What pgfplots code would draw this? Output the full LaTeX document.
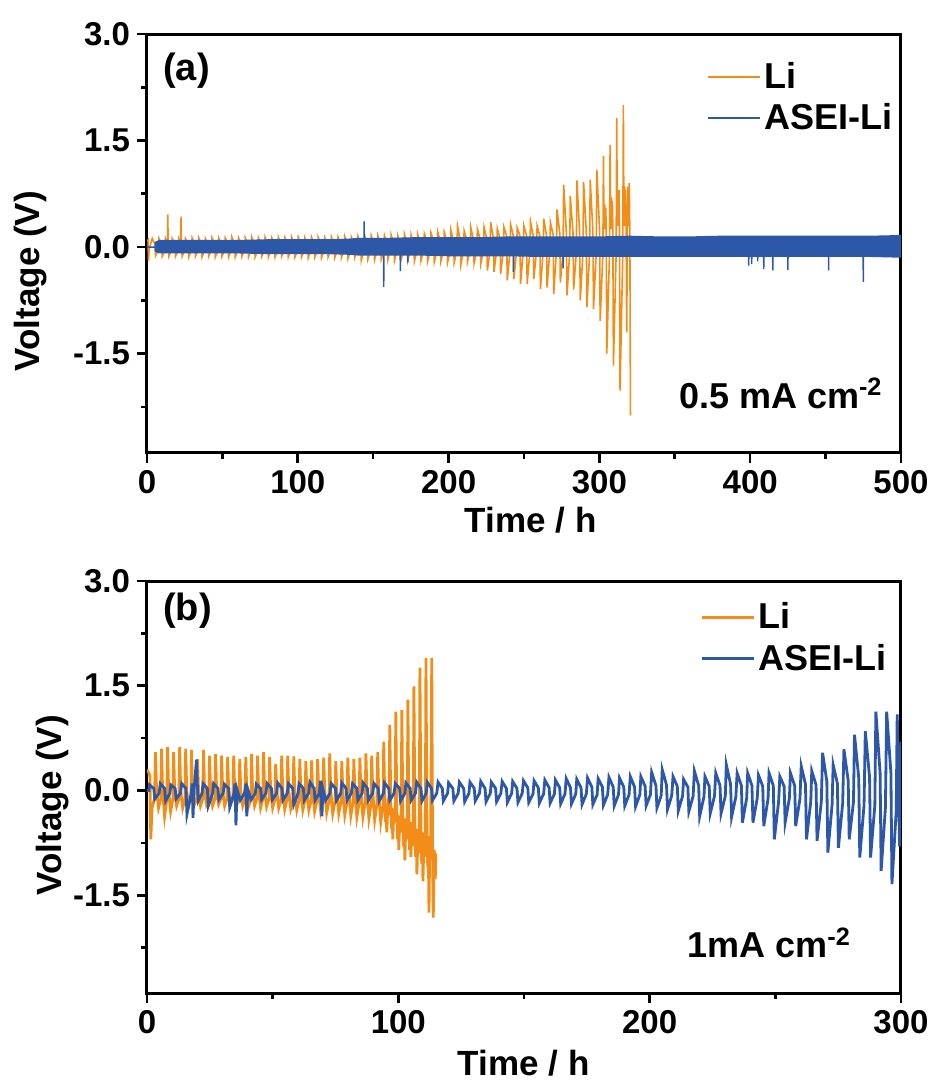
\documentclass[border=0pt]{standalone}
\usepackage{fontspec}
\setmainfont{Liberation Sans}
\usepackage{pgfplots}
\pgfplotsset{compat=1.18}
\definecolor{liorange}{RGB}{243,141,26}
\definecolor{aseiblue}{RGB}{45,88,168}
\pgfplotsset{
  myaxis/.style={
    scale only axis,
    width=377pt,
    axis line style={line width=1.5pt},
    every tick/.style={line width=1.3pt, black},
    tick align=outside,
    xtick pos=bottom, ytick pos=left,
    major tick length=5pt, minor tick length=3pt,
    ymin=-2.9, ymax=3.0,
    ytick={-1.5,0,1.5,3}, yticklabels={-1.5,0.0,1.5,3.0},
    minor ytick={-2.25,-0.75,0.75,2.25},
    tick label style={font=\fontsize{16.5}{19}\selectfont\bfseries},
    label style={font=\fontsize{17.5}{21}\selectfont\bfseries},
    legend style={draw=none, fill=none, font=\fontsize{18}{21}\selectfont\bfseries,
      nodes={inner sep=1.5pt}, row sep=3pt},
    legend cell align=left,
    legend image code/.code={\draw[#1] (0pt,0pt) -- (26pt,0pt);},
  }
}
\begin{document}
\begin{tikzpicture}
\path[use as bounding box] (-73.5pt,17pt) rectangle (394.5pt,-527.5pt);
% ---------------- panel (a) ----------------
\begin{axis}[myaxis, at={(0,0)}, anchor=north west, height=209.5pt,
  xmin=0, xmax=500, xtick={0,100,200,300,400,500}, xticklabels={0,100,200,300,400,500},
  minor xtick={50,150,250,350,450},
  xlabel={Time / h}, ylabel={Voltage (V)},
  xlabel style={at={(axis description cs:0.509,-0.189)}, anchor=base},
  ylabel style={at={(axis description cs:-0.155,0.41)}, anchor=center},
  legend style={at={(axis description cs:0.735,0.95)}, anchor=north west},
  legend image code/.code={\draw[#1, line width=0.8pt] (0pt,0pt) -- (26pt,0pt);},
]
\addplot[liorange, line width=0.8pt] coordinates {
(0,0.08) (0.7,0.10) (1.0,-0.19) (1.4,-0.03) (2.2,0.03)
(3.5,0.12) (5.3,0.04) (5.7,-0.12) (7.5,-0.04)
(7.9,0.12) (9.7,0.04) (10.1,-0.13) (11.9,-0.04)
(12.3,0.12) (13.6,0.05) (13.8,0.46) (14.0,0.05) (14.5,-0.13) (16.3,-0.04)
(16.7,0.12) (18.5,0.04) (18.9,-0.13) (20.7,-0.04)
(21.1,0.12) (22.4,0.05) (22.6,0.43) (22.8,0.05) (23.3,-0.13) (25.1,-0.04)
(25.5,0.12) (27.3,0.04) (27.7,-0.14) (29.5,-0.04)
(29.9,0.13) (31.7,0.04) (32.1,-0.13) (33.9,-0.04)
(34.3,0.13) (36.1,0.04) (36.5,-0.14) (38.3,-0.04)
(38.7,0.12) (40.5,0.04) (40.9,-0.13) (42.7,-0.04)
(43.1,0.13) (44.9,0.04) (45.3,-0.14) (47.1,-0.04)
(47.5,0.13) (49.3,0.04) (49.7,-0.13) (51.5,-0.04)
(51.9,0.13) (53.7,0.04) (54.1,-0.14) (55.9,-0.04)
(56.3,0.14) (58.1,0.04) (58.5,-0.14) (60.3,-0.04)
(60.7,0.13) (62.5,0.04) (62.9,-0.13) (64.7,-0.04)
(65.1,0.13) (66.9,0.04) (67.3,-0.14) (69.1,-0.04)
(69.5,0.14) (71.3,0.04) (71.7,-0.14) (73.5,-0.04)
(73.9,0.13) (75.7,0.04) (76.1,-0.13) (77.9,-0.04)
(78.3,0.14) (80.1,0.04) (80.5,-0.14) (82.3,-0.04)
(82.7,0.13) (84.5,0.04) (84.9,-0.14) (86.7,-0.04)
(87.1,0.14) (88.9,0.04) (89.3,-0.13) (91.1,-0.04)
(91.5,0.13) (93.3,0.04) (93.7,-0.14) (95.5,-0.04)
(95.9,0.14) (97.7,0.04) (98.1,-0.14) (99.9,-0.04)
(100.3,0.14) (102.1,0.04) (102.5,-0.14) (104.3,-0.04)
(104.7,0.13) (106.5,0.04) (106.9,-0.15) (108.7,-0.04)
(109.1,0.14) (110.9,0.04) (111.3,-0.14) (113.1,-0.04)
(113.5,0.14) (115.3,0.04) (115.7,-0.15) (117.5,-0.04)
(117.9,0.13) (119.7,0.04) (120.1,-0.14) (121.9,-0.04)
(122.3,0.14) (124.1,0.04) (124.5,-0.15) (126.3,-0.04)
(126.7,0.14) (128.5,0.04) (128.9,-0.15) (130.7,-0.04)
(131.1,0.15) (132.9,0.04) (133.3,-0.16) (135.1,-0.04)
(135.5,0.14) (137.3,0.04) (137.7,-0.15) (139.5,-0.04)
(139.9,0.15) (141.7,0.04) (142.1,-0.19) (143.9,-0.04)
(144.3,0.16) (146.1,0.04) (146.5,-0.17) (148.3,-0.04)
(148.7,0.16) (150.5,0.04) (150.9,-0.18) (152.7,-0.04)
(153.1,0.16) (154.9,0.04) (155.3,-0.17) (157.1,-0.04)
(157.5,0.16) (159.3,0.04) (159.7,-0.18) (161.5,-0.04)
(161.9,0.17) (163.7,0.04) (164.1,-0.19) (165.9,-0.04)
(166.3,0.16) (168.1,0.04) (168.5,-0.18) (170.3,-0.04)
(170.7,0.18) (172.5,0.04) (172.9,-0.19) (174.7,-0.04)
(175.1,0.17) (176.9,0.04) (177.3,-0.20) (179.1,-0.04)
(179.5,0.18) (181.3,0.04) (181.7,-0.19) (183.5,-0.04)
(183.9,0.19) (185.7,0.08) (186.1,-0.20) (187.9,-0.05)
(188.3,0.20) (190.1,0.08) (190.5,-0.21) (192.3,-0.05)
(192.7,0.22) (194.5,0.08) (194.9,-0.20) (196.7,-0.05)
(197.1,0.21) (198.9,0.08) (199.3,-0.22) (201.1,-0.05)
(201.5,0.24) (203.3,0.08) (203.7,-0.22) (205.5,-0.05)
(205.9,0.30) (207.7,0.10) (208.1,-0.25) (209.9,-0.05)
(210.3,0.23) (212.1,0.10) (212.5,-0.21) (214.3,-0.05)
(214.7,0.28) (216.5,0.10) (216.9,-0.23) (218.7,-0.05)
(219.1,0.25) (220.9,0.12) (221.3,-0.24) (223.1,-0.05)
(223.5,0.28) (225.3,0.12) (225.7,-0.33) (227.5,-0.05)
(227.9,0.35) (229.7,0.12) (230.1,-0.35) (231.9,-0.05)
(232.3,0.26) (234.1,0.12) (234.5,-0.38) (236.3,-0.05)
(236.7,0.28) (238.5,0.16) (238.9,-0.47) (240.7,-0.06)
(241.1,0.32) (242.9,0.16) (243.3,-0.45) (245.1,-0.06)
(245.5,0.27) (247.3,0.16) (247.7,-0.52) (249.5,-0.06)
(249.9,0.30) (251.7,0.16) (252.1,-0.52) (253.9,-0.06)
(254.3,0.36) (256.1,0.16) (256.5,-0.45) (258.3,-0.06)
(258.7,0.30) (260.5,0.16) (260.9,-0.59) (262.7,-0.06)
(263.1,0.40) (264.9,0.17) (265.3,-0.57) (267.1,-0.06)
(267.5,0.35) (269.3,0.18) (269.7,-0.66) (271.5,-0.06)
(271.9,0.53) (273.7,0.20) (274.1,-0.50) (275.9,-0.08)
(276.3,0.88) (278.1,0.20) (278.5,-0.68) (280.3,-0.08)
(280.7,0.72) (282.5,0.20) (282.9,-0.60) (284.7,-0.08)
(285.1,0.94) (286.9,0.20) (287.3,-0.75) (289.1,-0.08)
(289.5,0.92) (291.3,0.22) (291.7,-0.85) (293.5,-0.08)
(293.9,0.95) (295.7,0.22) (296.1,-0.87) (297.9,-0.08)
(298.3,1.09) (300.1,0.25) (300.5,-1.04) (302.3,-0.10)
(302.7,1.28) (303.0,0.45) (303.3,0.25) (303.6,0.60) (303.9,0.30) (304.2,0.55) (304.5,0.30) (304.9,-1.50) (306.7,-0.10)
(307.1,1.44) (307.4,0.50) (307.7,0.25) (308.0,0.70) (308.3,0.30) (308.6,0.65) (308.9,0.30) (309.3,-1.67) (311.1,-0.10)
(311.5,1.82) (311.8,0.55) (312.1,0.30) (312.4,0.75) (312.7,0.35) (313.0,0.80) (313.3,0.35) (313.7,-2.02) (315.5,-0.10)
(315.9,2.00) (316.2,0.60) (316.5,0.30) (316.8,0.85) (317.1,0.35) (317.4,0.80) (317.7,0.35) (318.1,-1.20) (318.6,0.30) (319.0,0.85) (319.4,0.30) (319.8,0.90) (320.2,0.20) (320.6,-2.37)
};
\addlegendentry{Li}
\addplot[fill=aseiblue, draw=none, forget plot] coordinates {
(5,0.07) (8,0.10) (20,0.10) (40,0.10) (60,0.10) (80,0.11) (100,0.11) (120,0.11) (135,0.12) (140,0.13)
(160,0.13) (180,0.14) (200,0.14) (220,0.14) (240,0.15) (260,0.15) (280,0.15) (300,0.15) (320,0.16)
(340,0.15) (360,0.15) (380,0.16) (400,0.16) (420,0.16) (440,0.16) (460,0.16) (480,0.16) (500,0.17)
(500,-0.15) (480,-0.14) (460,-0.14) (440,-0.14) (420,-0.14) (400,-0.14) (380,-0.14) (360,-0.14)
(340,-0.14) (320,-0.14) (300,-0.14) (280,-0.14) (260,-0.14) (240,-0.13) (220,-0.13) (200,-0.13)
(180,-0.12) (160,-0.12) (140,-0.12) (135,-0.11) (120,-0.10) (100,-0.10) (80,-0.10) (60,-0.09)
(40,-0.09) (20,-0.09) (8,-0.09) (5,-0.06)
};
\addplot[aseiblue, line width=0.7pt] coordinates {
(0,0) (143.8,0) (144.0,0.36) (144.2,0) (156.8,0) (157.0,-0.56) (157.2,0) (167.8,0) (168.0,-0.34) (168.2,0)
(172.8,0) (173.0,-0.22) (173.2,0) (242.8,0) (243.0,-0.35) (243.2,0) (275.8,0) (276.0,-0.30) (276.2,0)
(398.8,0) (399.0,-0.26) (399.2,0) (400.8,0) (401.0,-0.24) (401.2,0) (404.8,0) (405.0,-0.20) (405.2,0)
(408.8,0) (409.0,-0.31) (409.2,0) (414.8,0) (415.0,-0.33) (415.2,0) (424.8,0) (425.0,-0.32) (425.2,0)
(451.8,0) (452.0,-0.33) (452.2,0) (474.8,0) (475.0,-0.49) (475.2,0) (500,0)
};
\addlegendentry{ASEI-Li}
\node[anchor=north west, inner sep=0pt, font=\fontsize{19}{22}\selectfont\bfseries] at (rel axis cs:0.021,0.955) {(a)};
\node[anchor=base east, inner sep=0pt, font=\fontsize{18}{21}\selectfont\bfseries] at (rel axis cs:0.976,0.107) {0.5 mA cm\textsuperscript{-2}};
\end{axis}
% ---------------- panel (b) ----------------
\begin{axis}[myaxis, at={(0,-273.5pt)}, anchor=north west, height=206pt,
  xmin=0, xmax=300, xtick={0,100,200,300}, xticklabels={0,100,200,300},
  minor xtick={50,150,250},
  xlabel={Time / h}, ylabel={Voltage (V)},
  xlabel style={at={(axis description cs:0.4995,-0.199)}, anchor=base},
  ylabel style={at={(axis description cs:-0.125,0.456)}, anchor=center},
  legend style={at={(axis description cs:0.725,0.965)}, anchor=north west},
  legend image code/.code={\draw[#1, line width=1.5pt] (0pt,0pt) -- (26pt,0pt);},
]
\addplot[liorange, line width=1.4pt] coordinates {
(0,0.30) (0.8,0.25) (1.2,0.20) (1.5,-0.70) (2.0,-0.25) (3.0,-0.12)
(3.4,0.55) (3.8,0.00) (4.6,-0.25) (5.5,-0.12)
(5.8,0.60) (6.2,0.00) (7.0,-0.37) (7.9,-0.12)
(8.2,0.62) (8.6,0.00) (9.4,-0.30) (10.3,-0.12)
(10.6,0.55) (11.0,0.00) (11.8,-0.22) (12.7,-0.12)
(13.0,0.62) (13.4,0.00) (14.2,-0.25) (15.1,-0.12)
(15.4,0.60) (15.8,0.00) (16.6,-0.22) (17.5,-0.12)
(17.7,0.58) (18.1,0.00) (18.9,-0.20) (19.8,-0.12)
(20.1,0.45) (20.5,0.00) (21.3,-0.22) (22.2,-0.12)
(22.5,0.58) (22.9,0.00) (23.7,-0.20) (24.6,-0.12)
(24.9,0.50) (25.3,0.00) (26.1,-0.22) (27.0,-0.12)
(27.3,0.52) (27.7,0.00) (28.5,-0.20) (29.4,-0.12)
(29.7,0.50) (30.1,0.00) (30.9,-0.22) (31.8,-0.12)
(32.1,0.48) (32.5,0.00) (33.3,-0.20) (34.2,-0.12)
(34.5,0.50) (34.9,0.00) (35.7,-0.21) (36.6,-0.12)
(36.9,0.45) (37.3,0.00) (38.1,-0.22) (39.0,-0.12)
(39.3,0.48) (39.7,0.00) (40.5,-0.22) (41.4,-0.12)
(41.6,0.52) (42.0,0.00) (42.8,-0.22) (43.7,-0.12)
(44.0,0.50) (44.4,0.00) (45.2,-0.25) (46.1,-0.12)
(46.4,0.55) (46.8,0.00) (47.6,-0.23) (48.5,-0.12)
(48.8,0.48) (49.2,0.00) (50.0,-0.25) (50.9,-0.13)
(51.2,0.38) (51.6,0.00) (52.4,-0.25) (53.3,-0.13)
(53.6,0.50) (54.0,0.00) (54.8,-0.27) (55.7,-0.13)
(56.0,0.50) (56.4,0.00) (57.2,-0.26) (58.1,-0.14)
(58.4,0.49) (58.8,0.00) (59.6,-0.28) (60.5,-0.14)
(60.8,0.45) (61.2,0.00) (62.0,-0.28) (62.9,-0.14)
(63.2,0.42) (63.6,0.00) (64.4,-0.28) (65.3,-0.15)
(65.5,0.43) (65.9,0.00) (66.7,-0.30) (67.6,-0.15)
(67.9,0.45) (68.3,0.00) (69.1,-0.30) (70.0,-0.15)
(70.3,0.47) (70.7,0.00) (71.5,-0.32) (72.4,-0.16)
(72.7,0.53) (73.1,0.00) (73.9,-0.33) (74.8,-0.16)
(75.1,0.42) (75.5,0.00) (76.3,-0.33) (77.2,-0.16)
(77.5,0.42) (77.9,0.00) (78.7,-0.35) (79.6,-0.17)
(79.9,0.47) (80.3,0.00) (81.1,-0.36) (82.0,-0.17)
(82.3,0.45) (82.7,0.00) (83.5,-0.38) (84.4,-0.18)
(84.7,0.47) (85.1,0.00) (85.9,-0.38) (86.8,-0.18)
(87.1,0.53) (87.5,0.00) (88.3,-0.40) (89.2,-0.19)
(89.4,0.50) (89.8,0.00) (90.6,-0.42) (91.5,-0.20)
(91.8,0.55) (92.2,-0.05) (93.0,-0.45) (93.9,-0.22)
(94.2,0.70) (94.6,-0.15) (94.9,-0.45) (95.1,-0.20) (95.4,-0.60) (95.8,-0.25) (96.3,-0.35)
(96.6,0.94) (97.0,-0.20) (97.3,-0.55) (97.5,-0.25) (97.8,-0.70) (98.2,-0.30) (98.7,-0.45)
(99.0,1.13) (99.4,-0.30) (99.7,-0.70) (99.9,-0.35) (100.2,-0.85) (100.6,-0.40) (101.1,-0.60)
(101.4,1.15) (101.8,-0.35) (102.1,-0.80) (102.3,-0.40) (102.6,-1.00) (103.0,-0.45) (103.5,-0.70)
(103.8,1.30) (104.2,-0.40) (104.5,-0.85) (104.7,-0.45) (105.0,-0.95) (105.4,-0.50) (105.9,-0.80)
(106.2,1.49) (106.6,-0.50) (106.9,-0.95) (107.1,-0.55) (107.4,-1.20) (107.8,-0.60) (108.3,-0.90)
(108.6,1.76) (109.0,-0.55) (109.3,-1.05) (109.5,-0.60) (109.8,-1.30) (110.2,-0.65) (110.7,-0.95)
(111.0,1.90) (111.4,-0.60) (111.7,-1.10) (111.9,-0.65) (112.2,-1.75) (112.5,-0.70) (112.8,-1.00)
(113.3,1.90) (113.6,-0.80) (113.9,-1.82) (114.3,-0.85) (114.7,-1.27) (114.9,-0.90)
};
\addlegendentry{Li}
\addplot[aseiblue, line width=1.4pt] coordinates {
(0,0) (0.8,0)
(1.0,0.08) (2.7,0.03) (3.1,-0.12) (4.8,-0.04)
(5.3,0.10) (7.0,0.03) (7.4,-0.15) (9.1,-0.04)
(9.5,0.08) (11.2,0.03) (11.6,-0.12) (13.3,-0.04)
(13.8,0.10) (15.5,0.03) (15.9,-0.34) (17.6,-0.04)
(18.0,0.10) (18.3,-0.39) (18.7,0.00) (19.7,0.44) (20.1,0.02) (20.4,-0.15) (21.9,-0.04)
(22.3,0.10) (24.0,0.03) (24.4,-0.22) (26.1,-0.04)
(26.5,0.10) (28.2,0.03) (28.6,-0.13) (30.3,-0.04)
(30.8,0.09) (32.5,0.03) (32.9,-0.24) (34.6,-0.04)
(35.0,0.10) (35.4,-0.50) (35.8,0.02) (37.1,-0.14) (38.8,-0.04)
(39.3,0.10) (39.7,-0.37) (40.1,0.02) (41.4,-0.13) (43.1,-0.04)
(43.5,0.09) (45.2,0.03) (45.6,-0.13) (47.3,-0.04)
(47.8,0.10) (49.5,0.03) (49.9,-0.13) (51.6,-0.04)
(52.0,0.11) (53.7,0.03) (54.1,-0.14) (55.8,-0.04)
(56.3,0.10) (58.0,0.03) (58.4,-0.20) (60.1,-0.04)
(60.5,0.10) (62.2,0.03) (62.6,-0.14) (64.3,-0.04)
(64.8,0.12) (66.5,0.03) (66.9,-0.14) (68.6,-0.04)
(69.0,0.14) (69.6,-0.37) (70.0,0.02) (71.1,-0.14) (72.8,-0.04)
(73.3,0.10) (75.0,0.03) (75.4,-0.14) (77.1,-0.04)
(77.5,0.11) (79.2,0.03) (79.6,-0.14) (81.3,-0.04)
(81.8,0.10) (83.5,0.03) (83.9,-0.14) (85.6,-0.04)
(86.0,0.11) (87.7,0.03) (88.1,-0.14) (89.8,-0.04)
(90.3,0.10) (92.0,0.03) (92.4,-0.15) (94.1,-0.04)
(94.5,0.11) (96.2,0.03) (96.6,-0.14) (98.3,-0.04)
(98.8,0.10) (100.5,0.03) (100.9,-0.15) (102.6,-0.04)
(103.0,0.11) (104.7,0.03) (105.1,-0.14) (106.8,-0.04)
(107.3,0.12) (109.0,0.03) (109.4,-0.15) (111.1,-0.04)
(111.5,0.12) (113.2,0.03) (113.6,-0.14) (115.3,-0.04)
(115.8,0.12) (117.5,0.03) (117.9,-0.15) (119.6,-0.04)
(120.0,0.11) (121.7,0.03) (122.1,-0.15) (123.8,-0.04)
(124.3,0.12) (126.0,0.03) (126.4,-0.16) (128.1,-0.04)
(128.5,0.12) (130.2,0.03) (130.6,-0.15) (132.3,-0.04)
(132.8,0.13) (134.5,0.03) (134.9,-0.16) (136.6,-0.04)
(137.0,0.12) (138.7,0.03) (139.1,-0.16) (140.8,-0.04)
(141.3,0.13) (143.0,0.03) (143.4,-0.17) (145.1,-0.04)
(145.5,0.13) (147.2,0.03) (147.6,-0.17) (149.3,-0.04)
(149.8,0.14) (151.5,0.04) (151.9,-0.17) (153.6,-0.05)
(154.0,0.14) (155.7,0.04) (156.1,-0.18) (157.8,-0.05)
(158.3,0.15) (160.0,0.04) (160.4,-0.18) (162.1,-0.05)
(162.5,0.15) (164.2,0.04) (164.6,-0.19) (166.3,-0.05)
(166.8,0.17) (168.5,0.04) (168.9,-0.19) (170.6,-0.05)
(171.0,0.16) (172.7,0.04) (173.1,-0.20) (174.8,-0.05)
(175.3,0.18) (177.0,0.05) (177.4,-0.20) (179.1,-0.06)
(179.5,0.17) (181.2,0.05) (181.6,-0.21) (183.3,-0.06)
(183.8,0.19) (185.5,0.05) (185.9,-0.22) (187.6,-0.06)
(188.0,0.18) (189.7,0.05) (190.1,-0.22) (191.8,-0.06)
(192.3,0.20) (194.0,0.05) (194.4,-0.23) (196.1,-0.06)
(196.5,0.20) (198.2,0.06) (198.6,-0.22) (200.3,-0.06)
(200.8,0.26) (202.5,0.07) (202.9,-0.25) (204.6,-0.07)
(205.0,0.30) (206.7,0.08) (207.1,-0.27) (208.8,-0.07)
(209.3,0.20) (211.0,0.06) (211.4,-0.29) (213.1,-0.08)
(213.5,0.16) (215.2,0.05) (215.6,-0.30) (217.3,-0.08)
(217.8,0.28) (219.5,0.07) (219.9,-0.37) (221.6,-0.09)
(222.0,0.20) (223.7,0.06) (224.1,-0.33) (225.8,-0.08)
(226.3,0.25) (228.0,0.07) (228.4,-0.33) (230.1,-0.08)
(230.5,0.37) (232.2,0.09) (232.6,-0.38) (234.3,-0.09)
(234.8,0.25) (236.5,0.07) (236.9,-0.46) (238.6,-0.11)
(239.0,0.25) (240.7,0.07) (241.1,-0.46) (242.8,-0.11)
(243.3,0.22) (245.0,0.06) (245.4,-0.51) (247.1,-0.12)
(247.5,0.25) (249.2,0.07) (249.6,-0.70) (251.3,-0.16)
(251.8,0.20) (253.5,0.06) (253.9,-0.46) (255.6,-0.11)
(256.0,0.25) (257.7,0.07) (258.1,-0.51) (259.8,-0.12)
(260.3,0.35) (262.0,0.09) (262.4,-0.70) (264.1,-0.16)
(264.5,0.28) (266.2,0.08) (266.6,-0.72) (268.3,-0.16)
(268.8,0.54) (270.5,0.13) (270.9,-0.89) (272.6,-0.20)
(273.0,0.37) (274.7,0.10) (275.1,-0.82) (276.8,-0.18)
(277.3,0.59) (279.0,0.14) (279.4,-0.70) (281.1,-0.16)
(281.5,0.80) (283.2,0.18) (283.6,-0.96) (285.3,-0.21)
(285.8,0.85) (287.5,0.19) (287.9,-0.96) (289.6,-0.21)
(290.0,1.13) (291.7,0.25) (292.1,-1.15) (293.8,-0.25)
(294.3,1.13) (296.0,0.25) (296.4,-1.34) (298.1,-0.29)
(298.5,1.09) (299.0,0.20) (299.4,-0.80) (299.8,0.10) (300.0,0.70)
};
\addlegendentry{ASEI-Li}
\node[anchor=north west, inner sep=0pt, font=\fontsize{19}{22}\selectfont\bfseries] at (rel axis cs:0.021,0.971) {(b)};
\node[anchor=base east, inner sep=0pt, font=\fontsize{18}{21}\selectfont\bfseries] at (rel axis cs:0.934,0.085) {1mA cm\textsuperscript{-2}};
\end{axis}
\end{tikzpicture}
\end{document}
